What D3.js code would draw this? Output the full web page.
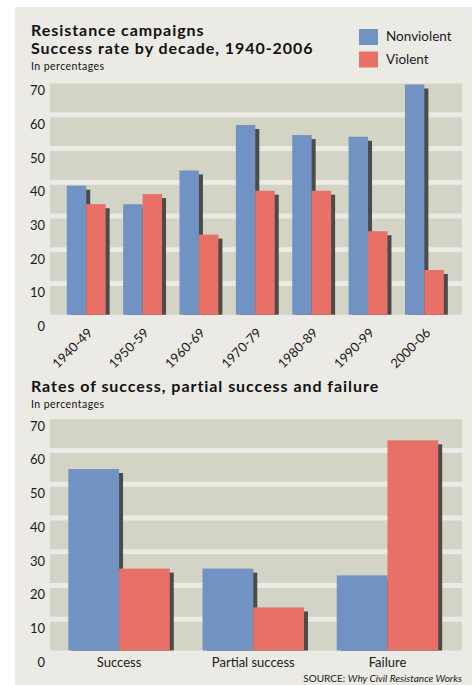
<!DOCTYPE html>
<html>
<head>
<meta charset="utf-8">
<script src="https://cdn.jsdelivr.net/npm/d3@7"></script>
<style>
  body { margin: 0; background: #ffffff; }
  svg { display: block; font-family: Lato, "Open Sans", sans-serif; }
</style>
</head>
<body>
<svg id="chart" width="476" height="685"></svg>
<script>
// chart data
var series = ['Nonviolent', 'Violent'];
var decades = ['1940-49', '1950-59', '1960-69', '1970-79', '1980-89', '1990-99', '2000-06'];
var nonviolentByDecade = [39, 33.5, 43.5, 57, 54, 53.5, 69];
var violentByDecade = [33.5, 36.5, 24.5, 37.5, 37.5, 25.5, 14];
var outcomes = ['Success', 'Partial success', 'Failure'];
var nonviolentByOutcome = [54.5, 25, 23];
var violentByOutcome = [25, 13.5, 63];
var yTicks = [0, 10, 20, 30, 40, 50, 60, 70];

var colors = {Nonviolent: '#7093c3', Violent: '#e87067'};
var panelColor = '#ebeae4';
var bandColor = '#d3d4c6';
var shadowColor = '#4b4c49';

var svg = d3.select('#chart');

svg.append('rect')
    .attr('x', 15).attr('y', 7)
    .attr('width', 457).attr('height', 678)
    .attr('fill', panelColor);

function addTitle(txt, y){
    return svg.append('text').attr('x', 31).attr('y', y)
        .style('font-weight', 700).style('font-size', '16px')
        .style('letter-spacing', '0.95px').attr('fill', '#111')
        .text(txt);
}

function addNote(txt, y){
    return svg.append('text').attr('x', 31).attr('y', y)
        .style('font-size', '10.5px').style('letter-spacing', '0.45px')
        .attr('fill', '#111')
        .text(txt);
}

function drawPanel(opts){
    var g = svg.append('g');
    var y = d3.scaleLinear().domain([0, 70]).range([opts.y0, opts.y70]);
    var x = d3.scaleBand().domain(opts.categories)
        .range([50, 462])
        .paddingInner(opts.padInner)
        .paddingOuter(opts.padOuter)
        .align(opts.align);
    var xs = d3.scaleBand().domain(series).range([0, x.bandwidth()]);
    var base = y(0) - 2.5;

    // background bands, the gaps between them act as gridlines
    g.selectAll('rect.band').data(yTicks.slice(0, -1)).enter().append('rect')
        .attr('class', 'band')
        .attr('x', 50)
        .attr('width', 412)
        .attr('y', function(d){ return y(d + 10) + 2.5; })
        .attr('height', function(d){ return y(d) - y(d + 10) - 5; })
        .attr('fill', bandColor);

    var rows = opts.categories.map(function(c, i){
        return [
            {cat: c, key: 'Nonviolent', value: opts.nonviolent[i]},
            {cat: c, key: 'Violent', value: opts.violent[i]}
        ];
    });
    var bars = [].concat.apply([], rows);

    // drop shadows first, then the bars over them
    g.selectAll('rect.shadow').data(bars).enter().append('rect')
        .attr('class', 'shadow')
        .attr('x', function(d){ return x(d.cat) + xs(d.key) + 4; })
        .attr('y', function(d){ return y(d.value) + 4; })
        .attr('width', xs.bandwidth())
        .attr('height', function(d){ return Math.max(0, base - y(d.value) - 4); })
        .attr('fill', shadowColor);

    g.selectAll('rect.bar').data(bars).enter().append('rect')
        .attr('class', 'bar')
        .attr('x', function(d){ return x(d.cat) + xs(d.key); })
        .attr('y', function(d){ return y(d.value); })
        .attr('width', xs.bandwidth())
        .attr('height', function(d){ return base - y(d.value); })
        .attr('fill', function(d){ return colors[d.key]; });

    var yAxis = g.append('g')
        .attr('transform', 'translate(45,0)')
        .call(d3.axisLeft(y).tickValues(yTicks).tickSize(0).tickPadding(0));
    yAxis.select('.domain').remove();
    yAxis.selectAll('text')
        .attr('dy', 13.5)
        .attr('fill', '#1a1a1a')
        .style('font-family', 'Lato, sans-serif')
        .style('font-size', '13px');

    return {g: g, x: x, y: y, base: base};
}

// ---- top chart
addTitle('Resistance campaigns', 36);
addTitle('Success rate by decade, 1940-2006', 54);
addNote('In percentages', 70);

var legend = svg.append('g').selectAll('g').data(series).enter().append('g')
    .attr('transform', function(d, i){ return 'translate(359,' + (29 + i * 22.5) + ')'; });
legend.append('rect')
    .attr('width', 19).attr('height', 16)
    .attr('fill', function(d){ return colors[d]; });
legend.append('text')
    .attr('x', 27).attr('y', 12)
    .style('font-size', '13.5px').attr('fill', '#1a1a1a')
    .text(function(d){ return d; });

var decadeChart = drawPanel({
    categories: decades,
    nonviolent: nonviolentByDecade,
    violent: violentByDecade,
    y0: 317.2, y70: 81.1,
    padInner: 0.31, padOuter: 0.31, align: 0.48
});

var decadeAxis = decadeChart.g.append('g')
    .attr('transform', 'translate(0,' + decadeChart.base + ')')
    .call(d3.axisBottom(decadeChart.x).tickSize(0).tickPadding(0));
decadeAxis.select('.domain').remove();
decadeAxis.selectAll('text')
    .attr('text-anchor', 'end')
    .attr('dy', 0)
    .attr('y', 0)
    .attr('transform', 'translate(7,19) rotate(-45)')
    .attr('fill', '#1a1a1a')
    .style('font-family', 'Lato, sans-serif')
    .style('font-size', '13px');

// ---- bottom chart
addTitle('Rates of success, partial success and failure', 392);
addNote('In percentages', 408);

var outcomeChart = drawPanel({
    categories: outcomes,
    nonviolent: nonviolentByOutcome,
    violent: violentByOutcome,
    y0: 653, y70: 416.7,
    padInner: 0.244, padOuter: 0.157, align: 0.435
});

var outcomeAxis = outcomeChart.g.append('g')
    .attr('transform', 'translate(0,' + outcomeChart.base + ')')
    .call(d3.axisBottom(outcomeChart.x).tickSize(0).tickPadding(0));
outcomeAxis.select('.domain').remove();
outcomeAxis.selectAll('text')
    .attr('dy', 0)
    .attr('y', 16)
    .attr('fill', '#1a1a1a')
    .style('font-family', 'Lato, sans-serif')
    .style('font-size', '13px');

var source = svg.append('text')
    .attr('x', 462).attr('y', 682)
    .attr('text-anchor', 'end')
    .style('font-size', '10px').attr('fill', '#1a1a1a');
source.append('tspan').text('SOURCE: ');
source.append('tspan').style('font-style', 'italic').text('Why Civil Resistance Works');
</script>
</body>
</html>
